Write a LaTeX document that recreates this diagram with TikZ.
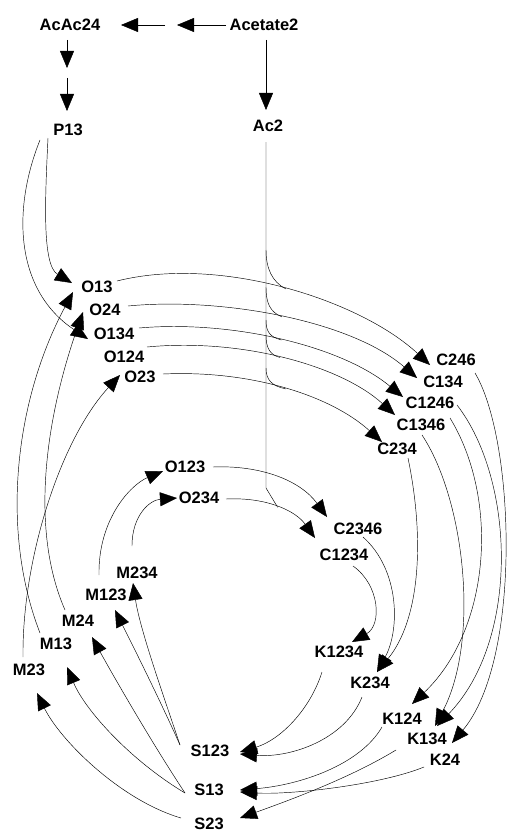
\documentclass[tikz,border=0pt]{standalone}
\usepackage{fontspec}
\newfontfamily\labfont{Liberation Sans}
\usetikzlibrary{arrows.meta,calc}
\begin{document}
\begin{tikzpicture}[x=1pt,y=-1pt,
  lbl/.style={inner sep=0pt,font=\labfont\bfseries\fontsize{16.5}{16.5}\selectfont},
  edge/.style={line width=0.45pt,-{Triangle[length=17pt,width=14pt]}},
  plain/.style={line width=0.45pt}]
\useasboundingbox[fill=white] (0,0) rectangle (507,832);
% nodes
\node[lbl] (AcAc24) at (70,25) {AcAc24};
\node[lbl] (Acetate2) at (264,25) {Acetate2};
\node[lbl] (P13) at (68,130) {P13};
\node[lbl] (Ac2) at (268,126) {Ac2};
\coordinate (h1) at (171,25);
\coordinate (h2) at (67,73);
\node[lbl] (O13) at (97,287) {O13};
\node[lbl] (O24) at (105,310) {O24};
\node[lbl] (O134) at (114,334) {O134};
\node[lbl] (O124) at (124,357) {O124};
\node[lbl] (O23) at (140,377) {O23};
\node[lbl] (O123) at (185,467) {O123};
\node[lbl] (O234) at (199,498) {O234};
\node[lbl] (C246) at (456,360) {C246};
\node[lbl] (C134) at (443,382) {C134};
\node[lbl] (C1246) at (430,403) {C1246};
\node[lbl] (C1346) at (421,425) {C1346};
\node[lbl] (C234) at (397,449) {C234};
\node[lbl] (C2346) at (358,529) {C2346};
\node[lbl] (C1234) at (344,555) {C1234};
\node[lbl] (M234) at (137,573) {M234};
\node[lbl] (M123) at (106,595) {M123};
\node[lbl] (M24) at (78,621) {M24};
\node[lbl] (M13) at (56,644) {M13};
\node[lbl] (M23) at (29,670) {M23};
\node[lbl] (K1234) at (339,652) {K1234};
\node[lbl] (K234) at (370,683) {K234};
\node[lbl] (K124) at (402,719) {K124};
\node[lbl] (K134) at (427,739) {K134};
\node[lbl] (K24) at (445,760) {K24};
\node[lbl] (S123) at (210,751) {S123};
\node[lbl] (S13) at (209,790) {S13};
\node[lbl] (S23) at (209,824) {S23};
% top chain
\draw[edge] ($(Acetate2)+(-38,0)$) -- ($(h1)+(6,0)$);
\draw[edge] ($(h1)+(-6,0)$) -- ($(AcAc24)+(51,0)$);
\draw[edge] ($(AcAc24)+(-3,15)$) -- ($(h2)+(0,-5)$);
\draw[edge] ($(h2)+(0,5)$) -- ($(P13)+(-1,-19)$);
\draw[edge] ($(Acetate2)+(2,15)$) -- ($(Ac2)+(-2,-16)$);
% P13 -> O
\draw[edge] ($(P13)+(-20,8)$) .. controls (45,200) and (42,265) .. ($(O13)+(-25,-4)$);
\draw[edge] ($(P13)+(-28,10)$) .. controls (12,210) and (15,290) .. ($(O134)+(-26,5)$);
% M -> O
\draw[edge] ($(M13)+(-16,-11)$) .. controls (0,530) and (15,400) .. ($(O13)+(-24,5)$);
\draw[edge] ($(M24)+(-13,-11)$) .. controls (30,530) and (45,420) .. ($(O24)+(-22,2)$);
\draw[edge] ($(M23)+(-6,-13)$) .. controls (22,560) and (60,440) .. ($(O23)+(-20,-2)$);
\draw[edge] ($(M123)+(-7,-20)$) .. controls (98,520) and (130,485) .. ($(O123)+(-22,4)$);
\draw[edge] ($(M234)+(-5,-27)$) .. controls (132,515) and (150,500) .. ($(O234)+(-22,0)$);
% O -> C
\draw[edge] ($(O13)+(20,-6)$) .. controls (220,255) and (360,300) .. ($(C246)+(-26,5)$) coordinate[pos=0.5] (m1);
\draw[edge] ($(O24)+(23,-4)$) .. controls (220,297) and (350,320) .. ($(C134)+(-26,-4)$) coordinate[pos=0.5] (m2);
\draw[edge] ($(O134)+(25,-6)$) .. controls (230,320) and (340,345) .. ($(C1246)+(-27,-6)$) coordinate[pos=0.5] (m3);
\draw[edge] ($(O124)+(23,-10)$) .. controls (240,338) and (340,365) .. ($(C1346)+(-26,-10)$) coordinate[pos=0.48] (m4);
\draw[edge] ($(O23)+(23,-3)$) .. controls (250,370) and (330,395) .. ($(C234)+(-15,-7)$) coordinate[pos=0.5] (m5);
\draw[edge] ($(O123)+(28,0)$) .. controls (260,465) and (300,480) .. ($(C2346)+(-31,-12)$);
\draw[edge] ($(O234)+(27,1)$) .. controls (265,497) and (295,510) .. ($(C1234)+(-29,-17)$) coordinate[pos=0.5] (m6);
% Ac2 -> C (one trunk, branches merging into the O -> C curves)
\coordinate (b1) at (266,250);
\coordinate (b2) at (266,287);
\coordinate (b3) at (266,320);
\coordinate (b4) at (266,335);
\coordinate (b5) at (266,368);
\coordinate (b6) at (266,488);
\draw[plain] ($(Ac2)+(-2,16)$) -- (b6) -- (m6);
\draw[plain] (b1) .. controls (266,268) and (272,282) .. (m1);
\draw[plain] (b2) .. controls (266,303) and (270,312) .. (m2);
\draw[plain] (b3) .. controls (266,332) and (270,337) .. (m3);
\draw[plain] (b4) .. controls (266,348) and (270,355) .. (m4);
\draw[plain] (b5) .. controls (266,380) and (272,386) .. (m5);
% C -> K
\draw[edge] ($(C1234)+(9,11)$) .. controls (380,585) and (382,625) .. ($(K1234)+(13,-10)$);
\draw[edge] ($(C2346)+(5,8)$) .. controls (400,570) and (400,630) .. ($(K234)+(7,-11)$);
\draw[edge] ($(C234)+(11,9)$) .. controls (425,540) and (420,620) .. ($(K234)+(7,-11)$);
\draw[edge] ($(C1346)+(1,10)$) .. controls (465,500) and (480,640) .. ($(K134)+(8,-13)$);
\draw[edge] ($(C1246)+(20,15)$) .. controls (500,500) and (490,630) .. ($(K124)+(10,-15)$);
\draw[edge] ($(C134)+(14,23)$) .. controls (515,480) and (520,640) .. ($(K134)+(10,-13)$);
\draw[edge] ($(C246)+(19,13)$) .. controls (515,440) and (522,660) .. ($(K24)+(7,-17)$);
% K -> S
\draw[edge] ($(K1234)+(-17,20)$) .. controls (310,710) and (280,740) .. ($(S123)+(30,1)$);
\draw[edge] ($(K234)+(-8,14)$) .. controls (345,740) and (290,758) .. ($(S123)+(30,3)$);
\draw[edge] ($(K124)+(-20,8)$) .. controls (360,765) and (300,785) .. ($(S13)+(31,0)$);
\draw[edge] ($(K24)+(-21,7)$) .. controls (380,785) and (290,795) .. ($(S13)+(31,2)$);
\draw[edge] ($(K134)+(-31,11)$) .. controls (350,778) and (290,800) .. ($(S23)+(31,-6)$);
% S -> M
\draw[edge] ($(S123)+(-30,-6)$) .. controls (165,700) and (140,630) .. ($(M234)+(-4,10)$);
\draw[edge] ($(S123)+(-30,-6)$) .. controls (160,700) and (130,640) .. ($(M123)+(9,15)$);
\draw[edge] ($(S13)+(-24,3)$) .. controls (150,740) and (110,670) .. ($(M24)+(14,16)$);
\draw[edge] ($(S13)+(-24,3)$) .. controls (130,760) and (85,710) .. ($(M13)+(11,23)$);
\draw[edge] ($(S23)+(-28,-6)$) .. controls (120,800) and (60,740) .. ($(M23)+(8,23)$);
\end{tikzpicture}
\end{document}
